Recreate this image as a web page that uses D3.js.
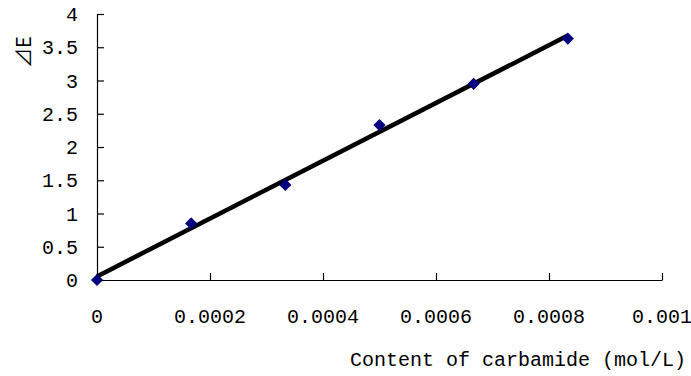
<!DOCTYPE html>
<html>
<head>
<meta charset="utf-8">
<script src="https://cdn.jsdelivr.net/npm/d3@7"></script>
<style>
  html, body { margin: 0; padding: 0; background: #fff; }
  svg text { font-family: "Liberation Mono", "DejaVu Sans Mono", monospace; fill: #000; }
</style>
</head>
<body>
<svg id="chart" width="691" height="376"></svg>
<script>
// Carbamide concentration (mol/L) and measured ΔE
const concentrations = [0, 0.000166667, 0.000333333, 0.0005, 0.000666667, 0.000833333];
const deltaE = [0, 0.85, 1.43, 2.33, 2.95, 3.63];
const xTicks = [0, 0.0002, 0.0004, 0.0006, 0.0008, 0.001];
const xTickLabels = ["0", "0.0002", "0.0004", "0.0006", "0.0008", "0.001"];
const yTicks = [0, 0.5, 1, 1.5, 2, 2.5, 3, 3.5, 4];
const yTickLabels = ["0", "0.5", "1", "1.5", "2", "2.5", "3", "3.5", "4"];

const svg = d3.select("#chart");
const margin = { left: 97, right: 29, top: 14, bottom: 96 };
const W = 691, H = 376;

const x = d3.scaleLinear().domain([0, 0.001]).range([margin.left, W - margin.right]);
const y = d3.scaleLinear().domain([0, 4]).range([H - margin.bottom, margin.top]);

// Axes with inward ticks
const xAxis = d3.axisBottom(x).tickValues(xTicks).tickSizeInner(-7).tickSizeOuter(0).tickFormat("");
const yAxis = d3.axisLeft(y).tickValues(yTicks).tickSizeInner(-7).tickSizeOuter(0).tickFormat("");

const gx = svg.append("g").attr("transform", `translate(0,${y(0)})`).call(xAxis);
const gy = svg.append("g").attr("transform", `translate(${x(0)},0)`).call(yAxis);
[gx, gy].forEach(g => {
  g.select(".domain").attr("stroke", "#000").attr("stroke-width", 1.2);
  g.selectAll(".tick line").attr("stroke", "#000").attr("stroke-width", 1.2);
});

// Tick labels
svg.append("g").selectAll("text").data(xTicks).join("text")
  .attr("x", d => x(d))
  .attr("y", 323)
  .attr("text-anchor", "middle")
  .attr("font-size", 20)
  .text((d, i) => xTickLabels[i]);

svg.append("g").selectAll("text").data(yTicks).join("text")
  .attr("x", 78)
  .attr("y", d => y(d) + 7)
  .attr("text-anchor", "end")
  .attr("font-size", 20)
  .text((d, i) => yTickLabels[i]);

// Axis titles
svg.append("text")
  .attr("x", 686).attr("y", 366)
  .attr("text-anchor", "end")
  .attr("font-size", 20)
  .text("Content of carbamide (mol/L)");

svg.append("text")
  .attr("transform", "translate(31,52) rotate(-90)")
  .attr("text-anchor", "middle")
  .attr("font-size", 20)
  .style("font-family", "'Noto Sans CJK SC', sans-serif")
  .text("⊿E");

// Least-squares trend line over the measured points
const mx = d3.mean(concentrations), my = d3.mean(deltaE);
let sxy = 0, sxx = 0;
concentrations.forEach((c, i) => { sxy += (c - mx) * (deltaE[i] - my); sxx += (c - mx) * (c - mx); });
const slope = sxy / sxx, intercept = my - slope * mx;
const xEnds = d3.extent(concentrations);

svg.append("line")
  .attr("x1", x(xEnds[0])).attr("y1", y(intercept + slope * xEnds[0]))
  .attr("x2", x(xEnds[1])).attr("y2", y(intercept + slope * xEnds[1]))
  .attr("stroke", "#000").attr("stroke-width", 4.5);

// Diamond markers
const diamond = d3.symbol().type(d3.symbolDiamond2).size(95);
svg.append("g").selectAll("path").data(concentrations).join("path")
  .attr("d", diamond)
  .attr("transform", (d, i) => `translate(${x(d)},${y(deltaE[i])})`)
  .attr("fill", "#000080");
</script>
</body>
</html>
